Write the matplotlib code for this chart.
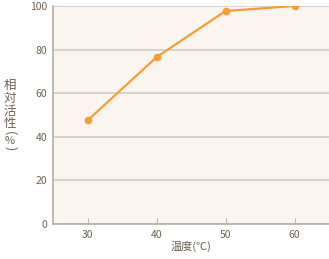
import matplotlib
matplotlib.use('Agg')
import matplotlib.pyplot as plt

plt.rcParams['font.family'] = ['Noto Sans CJK JP', 'DejaVu Sans']

temps = [30, 40, 50, 60]
activity = [47.5, 76.5, 97.7, 100]
x_ticks = [30, 40, 50, 60]
y_ticks = [0, 20, 40, 60, 80, 100]

TEXT = '#6e6252'
ORANGE = '#f2a033'
GRID = '#d2cdc8'

fig = plt.figure(figsize=(3.29, 2.59), dpi=100)
ax = fig.add_axes([53/329, 35/259, 1 - 53/329, 218/259])
ax.set_facecolor('#faf5ee')

ax.plot(temps, activity, color=ORANGE, lw=1.6, marker='o', ms=4.5, zorder=3)

ax.set_xlim(25, 65)
ax.set_ylim(0, 100)
ax.set_xticks(x_ticks)
ax.set_yticks(y_ticks)
ax.yaxis.grid(True, color=GRID, lw=1.2)
ax.set_axisbelow(True)
for s in ['top', 'right']:
    ax.spines[s].set_visible(False)
for s in ['left', 'bottom']:
    ax.spines[s].set_color('#b5aea8')
    ax.spines[s].set_linewidth(1.2)
ax.tick_params(axis='x', direction='in', length=4, color='#c0bab5', labelsize=7.5,
               labelcolor=TEXT, pad=4)
ax.tick_params(axis='y', length=0, labelsize=7.5, labelcolor=TEXT, pad=4)

ax.set_xlabel('温度(℃)', fontsize=8, color=TEXT, labelpad=1)

# vertical y label, one character per line (pixel rows from the top);
# brackets are turned on their side like in vertical Japanese text
ylabel_chars = ['相', '対', '活', '性', '(', '%', ')']
ylabel_rows = [85, 98, 111, 124, 133.5, 141, 148.5]
ylabel_sizes = [9, 9, 9, 9, 9, 8, 9]
ylabel_rot = [0, 0, 0, 0, 270, 0, 270]
for ch, row, fs, rot in zip(ylabel_chars, ylabel_rows, ylabel_sizes, ylabel_rot):
    fig.text(10/329, 1 - row / 259, ch, fontsize=fs, color=TEXT,
             ha='center', va='center', rotation=rot)

fig.savefig('out.png', dpi=100)
